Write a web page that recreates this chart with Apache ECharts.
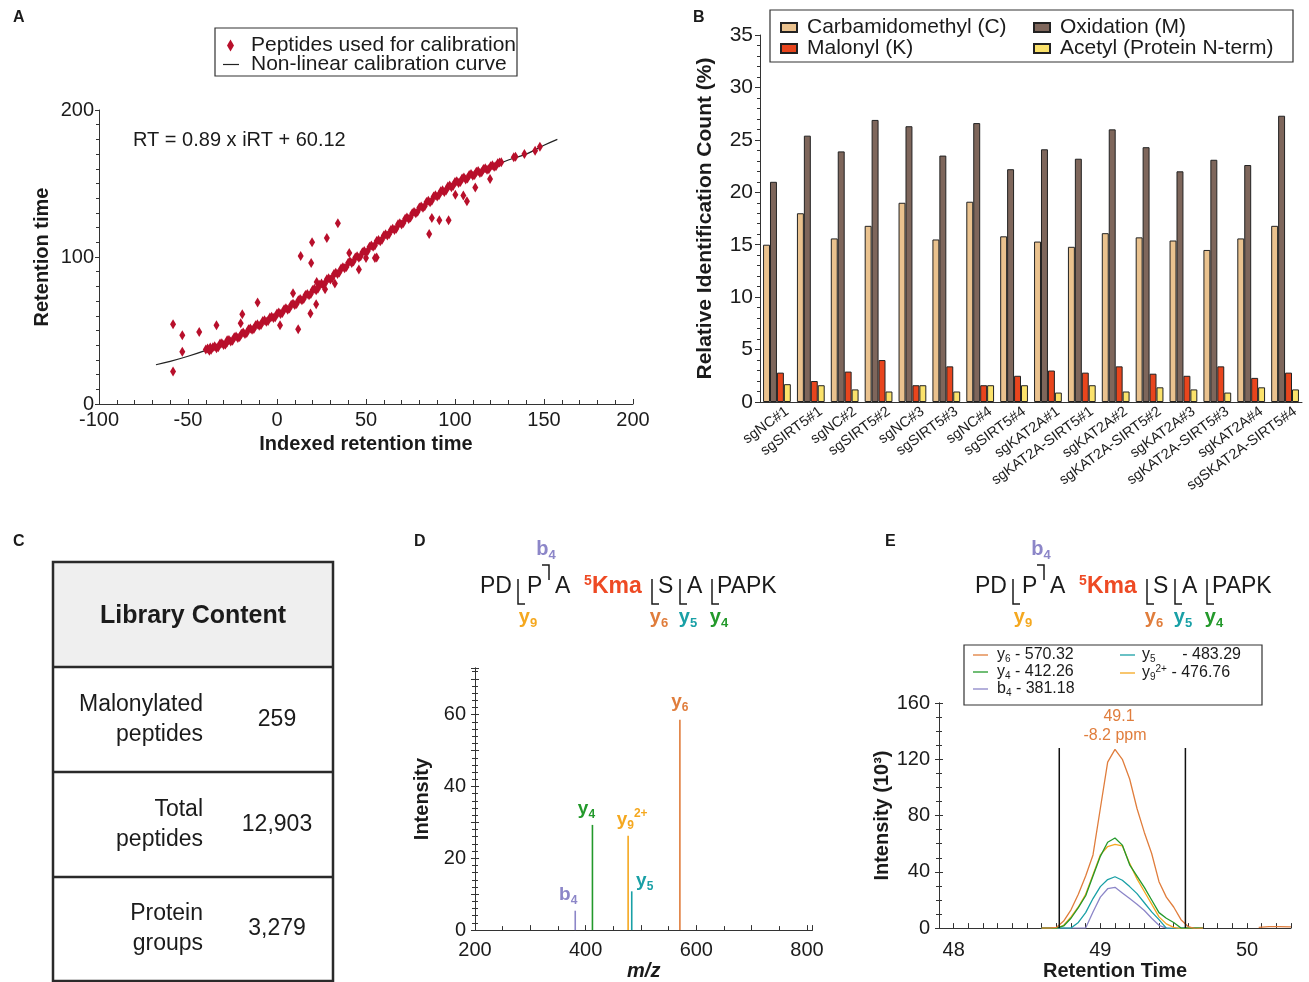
<!DOCTYPE html>
<html>
<head>
<meta charset="utf-8">
<script src="https://cdn.jsdelivr.net/npm/echarts@6/dist/echarts.min.js"></script>
<style>
  html, body { margin: 0; padding: 0; background: #fff; }
  #main { width: 1309px; height: 982px; }
</style>
</head>
<body>
<div id="main"></div>
<script>
// ---------- A: iRT calibration ----------
const bandIRT = [-40,-38,-36,-34,-32,-30,-28,-26,-24,-22,-20,-18,-16,-14,-12,-10,-8,-6,-4,-2,0,2,4,6,8,10,12,14,16,18,20,22,24,26,28,30,32,34,36,38,40,42,44,46,48,50,52,54,56,58,60,62,64,66,68,70,72,74,76,78,80,82,84,86,88,90,92,94,96,98,100,102,104,106,108,110,112,114,116,118,120,122,124,126];
const bandRT = [37,36.2,38.6,38.0,41.2,40.2,43.3,42.5,45.4,44.9,47.8,47.6,50.9,50.5,53.5,53.2,56.4,55.9,58.8,58.5,61.6,61.2,64.4,64.1,67.6,67.3,70.6,70.5,74.2,74.0,77.5,77.4,81.2,81.0,84.8,84.7,88.5,88.4,92.2,92.3,96.1,96.0,99.7,99.5,103.3,103.1,107.0,107.0,110.8,110.7,114.6,114.6,118.4,118.3,122.2,122.1,126.0,125.9,129.8,129.7,133.6,133.5,137.4,137.3,141.2,141.1,144.7,144.3,147.9,147.5,151.0,150.3,153.4,152.8,155.8,155.2,158.0,157.2,159.9,159.3,161.8,161.4,163.8,164.5];
const band2IRT = [-39,-37,-35,-33,-31,-29,-27,-25,-23,-21,-19,-17,-15,-13,-11,-9,-7,-5,-3,-1,1,3,5,7,9,11,13,15,17,19,21,23,25,27,29,31,33,35,37,39,41,43,45,47,49,51,53,55,57,59,61,63,65,67,69,71,73,75,77,79,81,83,85,87,89,91,93,95,97,99,101,103,105,107,109,111,113,115,117,119,121,123,125];
const band2RT = [37.8,36.9,39.3,38.6,41.4,40.7,43.6,43.1,46.0,45.5,48.7,48.3,51.4,51.0,54.2,53.8,56.9,56.4,59.4,59.0,62.2,61.9,65.1,64.9,68.2,68.0,71.5,71.4,74.9,74.8,78.4,78.4,82.0,82.0,85.6,85.6,89.3,89.4,93.1,93.2,96.9,96.9,100.5,100.5,104.1,104.1,107.8,107.9,111.6,111.7,115.4,115.5,119.2,119.3,123.0,123.1,126.8,126.9,130.6,130.7,134.4,134.5,138.2,138.3,142.0,142.0,145.4,145.2,148.6,148.4,151.6,151.0,154.0,153.4,156.4,155.7,158.5,157.7,160.4,159.7,162.4,161.8,164.3];
const looseIRT = [-58.4,-58.4,-53.2,-53.2,-43.7,-38,-37.5,-34,-29,-28,-20.4,-19.5,-10.9,1.7,9,11.9,13.3,18.8,19.2,19.7,22,22.3,27,28,32.5,34.2,40.6,46,50,55,56,85.5,87,91.2,96.4,100.2,104.7,106.7,111.4,119.7,133,134,139,145,147.7];
const looseRT = [54.2,22.1,46.8,35.5,49,37,38.5,53.6,40.5,42,54.9,61,69,53.6,75.3,50.8,100.6,61.5,96,110,67.8,83,78,113,82,123,102.8,91.5,99.4,99.4,99.6,115.7,126.6,125,125,142.4,141.9,137.9,147.3,153,167.8,168.2,170,172.2,175];
const curveIRT = [-68,-60,-50,-40,-30,-20,-10,0,10,20,30,40,50,60,70,80,90,100,110,120,130,140,150,157.5];
const curveRT = [26.7,29,32.5,36.5,41,47,54,60.5,68,76.5,85.5,95,104,113.5,123,132.5,142,150,156,161,166,170,176,180];

// ---------- B: modification counts ----------
const sampleNames = ['sgNC#1','sgSIRT5#1','sgNC#2','sgSIRT5#2','sgNC#3','sgSIRT5#3','sgNC#4','sgSIRT5#4','sgKAT2A#1','sgKAT2A-SIRT5#1','sgKAT2A#2','sgKAT2A-SIRT5#2','sgKAT2A#3','sgKAT2A-SIRT5#3','sgKAT2A#4','sgSKAT2A-SIRT5#4'];
const carbamidomethyl = [15.0,18.0,15.6,16.8,19.0,15.5,19.1,15.8,15.3,14.8,16.1,15.7,15.4,14.5,15.6,16.8];
const oxidation = [21.0,25.4,23.9,26.9,26.3,23.5,26.6,22.2,24.1,23.2,26.0,24.3,22.0,23.1,22.6,27.3];
const malonyl = [2.8,2.0,2.9,4.0,1.6,3.4,1.6,2.5,3.0,2.8,3.4,2.7,2.5,3.4,2.3,2.8];
const acetyl = [1.7,1.6,1.2,1.0,1.6,1.0,1.6,1.6,0.9,1.6,1.0,1.4,1.2,0.9,1.4,1.2];

// ---------- C: library table ----------
const tableLabels = [['Malonylated', 'peptides'], ['Total', 'peptides'], ['Protein', 'groups']];
const tableValues = ['259', '12,903', '3,279'];

// ---------- D: MS/MS spectrum ----------
const ionKeys = ['b4', 'y4', 'y9', 'y5', 'y6'];
const ionMz = [381.18, 412.26, 476.76, 483.29, 570.32];
const ionIntensity = [5.4, 29.3, 26.3, 10.8, 58.6];

// ---------- E: fragment XICs ----------
const xicTimes = [48.60,48.65,48.70,48.75,48.80,48.85,48.90,48.95,49.00,49.05,49.10,49.15,49.20,49.25,49.30,49.35,49.40,49.45,49.50,49.55,49.60,49.65,49.70];
const xicY6 = [0,0,0.5,5,13,24,37,52,85,118,127,120,106,85,68,53,33,22,15,6,1,-0.5,0];
const xicY4 = [0,0,0,1.5,7,14.5,23,37,51,61,64,59,45,37,29,20,11,7,4,0,0,0,0];
const xicY9 = [0,0,0,2,8,15,24,38,52,58,59.5,58.5,46,35,26,17,8,3,0.5,-0.5,0,0,0];
const xicY5 = [0,0,0,0,0,4,11,21,29.5,34.5,36.5,34,29.5,24.5,18,11.5,6,0,-0.5,0,0,0,0];
const xicB4 = [0,0,0,0,0,0,0,11.5,22,28,29,25,21,17,12.5,7,2,0,0,0,0,0,0];
const tailTimes = [50.08, 50.15, 50.22, 50.30];
const tailY6 = [0.5, 1, 1, 0.8];
const peakBounds = [48.72, 49.58];
const boundTop = 128;
const legendMz = { y6: '570.32', y4: '412.26', b4: '381.18', y5: '483.29', y9: '476.76' };

const FONT = '"Liberation Sans", Arial, Helvetica, sans-serif';
const INK = '#1b1b1b';
const AX = '#333';

const ionColor = { b4: '#8c86c8', y4: '#23992b', y9: '#f5a81f', y5: '#19a0a6', y6: '#e07d3c' };
const ionRich = { b4: '{m|b}{s|4}', y4: '{m|y}{s|4}', y9: '{m|y}{s|9}{p|2+}', y5: '{m|y}{s|5}', y6: '{m|y}{s|6}' };
const seqRich = { b4: '{m|b}{s|4}', y4: '{m|y}{s|4}', y9: '{m|y}{s|9}', y5: '{m|y}{s|5}', y6: '{m|y}{s|6}' };
const modColor = {
  'Carbamidomethyl (C)': '#eac28e',
  'Oxidation (M)': '#7e665b',
  'Malonyl (K)': '#e8451d',
  'Acetyl (Protein N-term)': '#fbe26b'
};

function richFor(color, size) {
  const sub = Math.round(size * 0.64);
  const base = { color: color, fill: color, fontFamily: FONT, fontWeight: 'bold' };
  return {
    m: Object.assign({ fontSize: size, lineHeight: size + 5 }, base),
    s: Object.assign({ fontSize: sub, lineHeight: sub, verticalAlign: 'bottom' }, base),
    p: Object.assign({ fontSize: sub, lineHeight: sub, verticalAlign: 'top' }, base)
  };
}

function txt(x, y, text, font, extra) {
  return {
    type: 'text', x: x, y: y, silent: true,
    style: Object.assign({
      text: text, font: font, fill: INK,
      align: 'left', verticalAlign: 'middle', textAlign: 'left', textVerticalAlign: 'middle'
    }, extra || {})
  };
}
function hline(x1, y1, x2, y2, width, color) {
  return { type: 'line', silent: true, shape: { x1: x1, y1: y1, x2: x2, y2: y2 }, style: { stroke: color || INK, lineWidth: width || 1 } };
}

function sequence(dx) {
  const f = '23px ' + FONT;
  const fb = 'bold 23px ' + FONT;
  const red = '#ee4a24';
  const br = (x) => ({ type: 'polyline', silent: true, shape: { points: [[x + dx, 579], [x + dx, 604], [x + dx + 7, 604]] }, style: { stroke: INK, lineWidth: 1.5, fill: null } });
  const ion = (x, y, key) => ({
    type: 'text', x: x + dx, y: y, silent: true,
    style: { text: seqRich[key], rich: richFor(ionColor[key], 20), fill: ionColor[key], align: 'center', verticalAlign: 'middle', textAlign: 'center', textVerticalAlign: 'middle' }
  });
  return [
    txt(480 + dx, 587, 'PD', f),
    br(518),
    txt(527 + dx, 587, 'P', f),
    { type: 'polyline', silent: true, shape: { points: [[542 + dx, 565], [549 + dx, 565], [549 + dx, 580]] }, style: { stroke: INK, lineWidth: 1.5, fill: null } },
    txt(555 + dx, 587, 'A', f),
    txt(584 + dx, 581, '5', 'bold 14px ' + FONT, { fill: red }),
    txt(592 + dx, 587, 'Kma', fb, { fill: red }),
    br(652),
    txt(658 + dx, 587, 'S', f),
    br(680),
    txt(687 + dx, 587, 'A', f),
    br(712),
    txt(717 + dx, 587, 'PAPK', f),
    ion(546, 549, 'b4'),
    ion(528, 617, 'y9'),
    ion(659, 617, 'y6'),
    ion(688, 617, 'y5'),
    ion(719, 617, 'y4')
  ];
}

function tableGraphics() {
  const g = [];
  g.push({ type: 'rect', silent: true, shape: { x: 53, y: 562, width: 280, height: 105 }, style: { fill: '#efefef' } });
  g.push({ type: 'rect', silent: true, shape: { x: 53, y: 562, width: 280, height: 419 }, style: { fill: null, stroke: '#2a2a2a', lineWidth: 2.5 } });
  [667, 772, 877].forEach(y => g.push(hline(53, y, 333, y, 2.5, '#2a2a2a')));
  g.push(txt(193, 616, 'Library Content', 'bold 25px ' + FONT, { align: 'center', textAlign: 'center' }));
  const centers = [720, 825, 929];
  tableLabels.forEach((lines, i) => {
    g.push(txt(203, centers[i] - 15, lines[0], '23px ' + FONT, { align: 'right', textAlign: 'right' }));
    g.push(txt(203, centers[i] + 15, lines[1], '23px ' + FONT, { align: 'right', textAlign: 'right' }));
    g.push(txt(277, centers[i], tableValues[i], '23px ' + FONT, { align: 'center', textAlign: 'center' }));
  });
  return g;
}

const panelFont = 'bold 16px ' + FONT;
const graphics = [
  txt(13, 18, 'A', panelFont), txt(693, 18, 'B', panelFont), txt(13, 542, 'C', panelFont),
  txt(414, 542, 'D', panelFont), txt(885, 542, 'E', panelFont),
  { type: 'rect', silent: true, shape: { x: 215, y: 28, width: 302, height: 48 }, style: { fill: null, stroke: AX, lineWidth: 1.2 } },
  txt(133, 140, 'RT = 0.89 x iRT + 60.12', '20px ' + FONT),
  { type: 'rect', silent: true, shape: { x: 770, y: 10, width: 523, height: 52 }, style: { fill: null, stroke: AX, lineWidth: 1.2 } },
  { type: 'rect', silent: true, shape: { x: 964, y: 645, width: 298, height: 60 }, style: { fill: null, stroke: AX, lineWidth: 1.2 } },
  txt(1119, 717, '49.1', '16px ' + FONT, { fill: ionColor.y6, align: 'center', textAlign: 'center' }),
  txt(1115, 736, '-8.2 ppm', '16px ' + FONT, { fill: ionColor.y6, align: 'center', textAlign: 'center' })
].concat(tableGraphics(), sequence(0), sequence(495));

const nameStyle = { fontSize: 20, fontWeight: 'bold', color: INK, fontFamily: FONT };
const lineAx = { onZero: false, lineStyle: { color: AX, width: 1 } };

const xAxes = [
  { type: 'value', gridIndex: 0, min: -100, max: 200, interval: 50, splitLine: { show: false },
    axisLine: lineAx, axisTick: { inside: true, length: 5, lineStyle: { color: AX } },
    minorTick: { show: true, splitNumber: 5, length: 4, lineStyle: { color: AX } },
    axisLabel: { fontSize: 20, color: INK, margin: 6 },
    name: 'Indexed retention time', nameLocation: 'middle', nameGap: 30, nameTextStyle: nameStyle },
  { type: 'category', gridIndex: 1, data: sampleNames,
    axisLine: lineAx, axisTick: { alignWithLabel: true, length: 4, lineStyle: { color: AX } },
    axisLabel: { show: false } },
  { type: 'value', gridIndex: 1, min: -0.5, max: 15.5, position: 'bottom', splitLine: { show: false },
    axisLine: { show: false }, axisTick: { show: false },
    axisLabel: { customValues: sampleNames.map((n, i) => i + 0.3), formatter: v => sampleNames[Math.round(v - 0.3)],
      rotate: 36, fontSize: 14.5, margin: 8, color: INK } },
  { type: 'value', gridIndex: 2, min: 200, max: 810, interval: 100, splitLine: { show: false },
    axisLine: lineAx, axisTick: { inside: true, length: 5, lineStyle: { color: AX } },
    minorTick: { show: true, splitNumber: 2, length: 4, lineStyle: { color: AX } },
    axisLabel: { fontSize: 20, color: INK, margin: 10, formatter: v => (v % 200 === 0 ? String(v) : '') },
    name: 'm/z', nameLocation: 'middle', nameGap: 30, nameTextStyle: Object.assign({}, nameStyle, { fontStyle: 'italic' }) },
  { type: 'value', gridIndex: 3, min: 47.9, max: 50.3, interval: 0.1, splitLine: { show: false },
    axisLine: lineAx, axisTick: { inside: true, length: 5, lineStyle: { color: AX } },
    axisLabel: { fontSize: 20, color: INK, margin: 12, formatter: v => (Math.abs(v - Math.round(v)) < 1e-6 ? String(Math.round(v)) : '') },
    name: 'Retention Time', nameLocation: 'middle', nameGap: 30, nameTextStyle: nameStyle }
];

function yPair(grid, min, max, interval, split, labelFmt, name, gap, labelSize) {
  return [
    { type: 'value', gridIndex: grid, position: 'left', min: min, max: max, interval: interval, splitLine: { show: false },
      axisLine: lineAx, axisTick: { length: 4, lineStyle: { color: AX } },
      minorTick: { show: true, splitNumber: split, length: 3, lineStyle: { color: AX } },
      axisLabel: { fontSize: labelSize, color: INK, margin: 9, formatter: labelFmt },
      name: name, nameLocation: 'middle', nameGap: gap, nameTextStyle: nameStyle },
    { type: 'value', gridIndex: grid, position: 'left', min: min, max: max, interval: interval, splitLine: { show: false },
      axisLine: lineAx, axisTick: { inside: true, length: 4, lineStyle: { color: AX } },
      minorTick: { show: true, splitNumber: split, length: 3, lineStyle: { color: AX } },
      axisLabel: { show: false } }
  ];
}

const yAxes = [
  { type: 'value', gridIndex: 0, min: 0, max: 200, interval: 100, splitLine: { show: false },
    axisLine: lineAx, axisTick: { length: 4, lineStyle: { color: AX } },
    minorTick: { show: true, splitNumber: 10, length: 3, lineStyle: { color: AX } },
    axisLabel: { fontSize: 20, color: INK, margin: 5 },
    name: 'Retention time', nameLocation: 'middle', nameGap: 47, nameTextStyle: nameStyle },
  { type: 'value', gridIndex: 1, min: 0, max: 35, interval: 5, splitLine: { show: false },
    axisLine: lineAx, axisTick: { length: 5, lineStyle: { color: AX } },
    minorTick: { show: true, splitNumber: 5, length: 3, lineStyle: { color: AX } },
    axisLabel: { fontSize: 21, color: INK, margin: 7 },
    name: 'Relative Identification Count (%)', nameLocation: 'middle', nameGap: 44,
    nameTextStyle: Object.assign({}, nameStyle, { fontSize: 21 }) }
].concat(
  yPair(2, 0, 73, 10, 5, v => (v % 20 === 0 && v <= 60 ? String(v) : ''), 'Intensity', 43, 20),
  yPair(3, 0, 160, 40, 4, v => String(v), 'Intensity (10\u00B3)', 44, 20)
);

const series = [];

// A
series.push({
  name: 'Non-linear calibration curve', type: 'line', xAxisIndex: 0, yAxisIndex: 0,
  data: curveIRT.map((x, i) => [x, curveRT[i]]), smooth: 0.4, symbol: 'none',
  lineStyle: { color: '#222', width: 1.2 }, itemStyle: { color: '#222' }, z: 2
});
series.push({
  name: 'Peptides used for calibration', type: 'scatter', xAxisIndex: 0, yAxisIndex: 0,
  data: bandIRT.map((x, i) => [x, bandRT[i]])
    .concat(band2IRT.map((x, i) => [x, band2RT[i]]))
    .concat(looseIRT.map((x, i) => [x, looseRT[i]])),
  symbol: 'diamond', symbolSize: [6, 10], itemStyle: { color: '#b80f2b', opacity: 1 }, z: 3
});

// B
const mods = [
  ['Carbamidomethyl (C)', carbamidomethyl],
  ['Oxidation (M)', oxidation],
  ['Malonyl (K)', malonyl],
  ['Acetyl (Protein N-term)', acetyl]
];
mods.forEach(([name, vals]) => series.push({
  name: name, type: 'bar', xAxisIndex: 1, yAxisIndex: 1, data: vals,
  barGap: '0%', barCategoryGap: '18%',
  itemStyle: { color: modColor[name], borderColor: '#222', borderWidth: 1 }
}));

// D
const labelOffsets = { b4: [-7, 0], y4: [-6, 0], y9: [4, 0], y5: [13, 5], y6: [0, -2] };
series.push({
  name: 'MS/MS', type: 'bar', xAxisIndex: 3, yAxisIndex: 2, barWidth: 1.6,
  data: ionKeys.map((k, i) => ({
    value: [ionMz[i], ionIntensity[i]],
    itemStyle: { color: ionColor[k] },
    label: { show: true, position: 'top', distance: 4, offset: labelOffsets[k],
      formatter: ionRich[k], rich: richFor(ionColor[k], 19) }
  }))
});

// E
const xics = { y6: xicY6, y4: xicY4, b4: xicB4, y5: xicY5, y9: xicY9 };
['b4', 'y5', 'y9', 'y4', 'y6'].forEach(k => series.push({
  name: k, type: 'line', xAxisIndex: 4, yAxisIndex: 4, symbol: 'none',
  data: xicTimes.map((t, i) => [t, xics[k][i]]),
  lineStyle: { color: ionColor[k], width: 1.3 }, itemStyle: { color: ionColor[k] }
}));
series.push({
  name: 'y6 tail', type: 'line', xAxisIndex: 4, yAxisIndex: 4, symbol: 'none',
  data: tailTimes.map((t, i) => [t, tailY6[i]]),
  lineStyle: { color: ionColor.y6, width: 1.3 }
});
peakBounds.forEach((t, i) => series.push({
  name: 'bound' + i, type: 'line', xAxisIndex: 4, yAxisIndex: 4, symbol: 'none',
  data: [[t, 0], [t, boundTop]], lineStyle: { color: '#111', width: 1.5 }
}));

function eLegendText(name) {
  const pad = name === 'y5' ? '     ' : '';
  return ionRich[name].replace(/\{m\|/g, '{n|').replace(/\{s\|/g, '{t|').replace(/\{p\|/g, '{q|') + '{n|' + pad + ' - ' + legendMz[name] + '}';
}
const eRich = {
  n: { fontFamily: FONT, fontSize: 16, color: INK, lineHeight: 18 },
  t: { fontFamily: FONT, fontSize: 10, color: INK, lineHeight: 10, verticalAlign: 'bottom' },
  q: { fontFamily: FONT, fontSize: 10, color: INK, lineHeight: 10, verticalAlign: 'top' }
};

const legendBase = { orient: 'vertical', padding: 0, itemGap: 0, selectedMode: false };
const legends = [
  Object.assign({}, legendBase, { left: 227, top: 35, itemWidth: 7, itemHeight: 12,
    data: ['Peptides used for calibration'],
    textStyle: { fontSize: 21, lineHeight: 20, color: INK, fontFamily: FONT, padding: [0, 0, 0, 12] } }),
  Object.assign({}, legendBase, { left: 223, top: 54, itemWidth: 16, itemHeight: 1.2, icon: 'rect',
    data: ['Non-linear calibration curve'],
    textStyle: { fontSize: 21, lineHeight: 20, color: INK, fontFamily: FONT, padding: [0, 0, 0, 7] } }),
  Object.assign({}, legendBase, { left: 780, top: 17, itemWidth: 16, itemHeight: 9, icon: 'rect',
    data: ['Carbamidomethyl (C)', 'Malonyl (K)'],
    textStyle: { fontSize: 21, lineHeight: 21, color: INK, fontFamily: FONT, padding: [0, 0, 0, 5] } }),
  Object.assign({}, legendBase, { left: 1033, top: 17, itemWidth: 16, itemHeight: 9, icon: 'rect',
    data: ['Oxidation (M)', 'Acetyl (Protein N-term)'],
    textStyle: { fontSize: 21, lineHeight: 21, color: INK, fontFamily: FONT, padding: [0, 0, 0, 5] } }),
  Object.assign({}, legendBase, { left: 973, top: 647, itemWidth: 15, itemHeight: 1.3, icon: 'rect',
    data: ['y6', 'y4', 'b4'], formatter: eLegendText,
    textStyle: { fontSize: 16, color: INK, fontFamily: FONT, rich: eRich, padding: [0, 0, 0, 4] } }),
  Object.assign({}, legendBase, { left: 1120, top: 647, itemWidth: 15, itemHeight: 1.3, icon: 'rect',
    data: ['y5', 'y9'], formatter: eLegendText,
    textStyle: { fontSize: 16, color: INK, fontFamily: FONT, rich: eRich, padding: [0, 0, 0, 2] } })
];

const chart = echarts.init(document.getElementById('main'));
chart.setOption({
  animation: false,
  backgroundColor: '#fff',
  textStyle: { fontFamily: FONT, color: INK },
  grid: [
    { left: 99, top: 110, width: 534, height: 294 },
    { left: 760, top: 35, width: 542, height: 367 },
    { left: 475, top: 668, width: 337.5, height: 264 },
    { left: 939, top: 703, width: 352, height: 229 }
  ],
  legend: legends,
  xAxis: xAxes,
  yAxis: yAxes,
  series: series,
  graphic: graphics
});
</script>
</body>
</html>
